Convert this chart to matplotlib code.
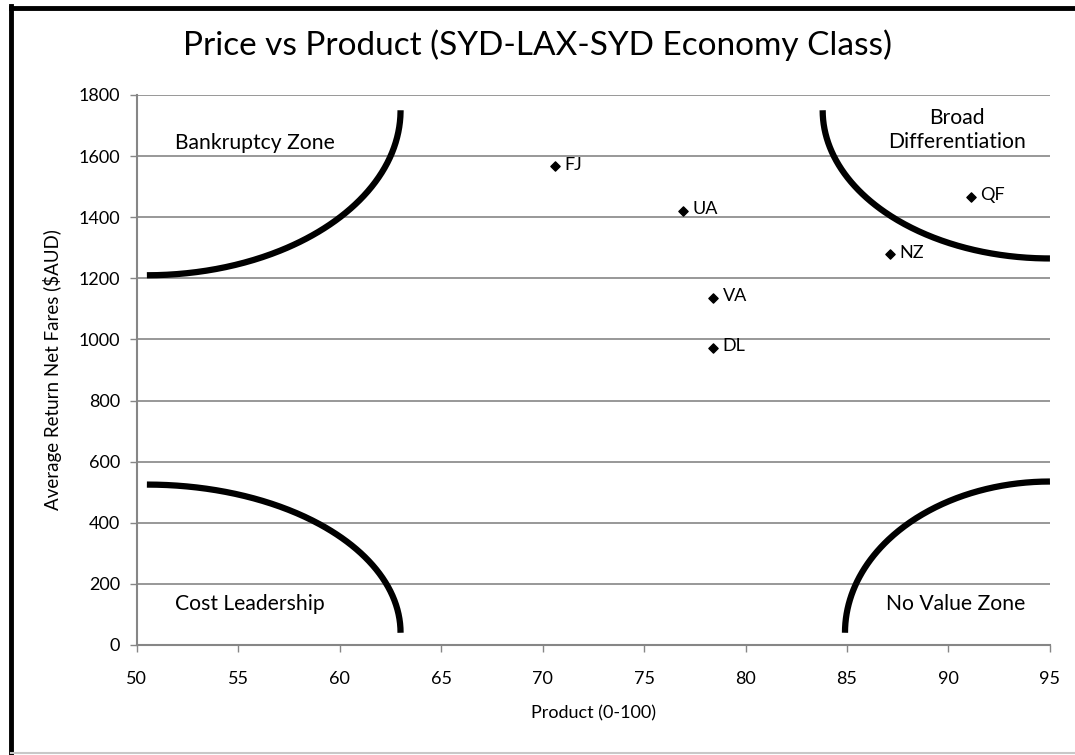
import numpy as np
import matplotlib.pyplot as plt
from matplotlib.lines import Line2D

plt.rcParams['font.family'] = ['Lato', 'DejaVu Sans']

# airline positions
airlines = ['FJ', 'UA', 'QF', 'NZ', 'VA', 'DL']
product = [70.6, 76.9, 91.1, 87.1, 78.4, 78.4]
fares = [1567, 1421, 1467, 1278, 1136, 973]

# quarter-ellipse zone boundaries: centre x, centre y, half-width, half-height, start/end angles
arcs = [
    (50.5, 1750, 12.5, 540, 270, 360),   # bankruptcy
    (95.0, 1750, 11.2, 485, 180, 270),   # broad differentiation
    (50.5, 40, 12.5, 485, 0, 90),        # cost leadership
    (95.0, 40, 10.1, 495, 90, 180),      # no value
]
zones = [
    ('Bankruptcy Zone', 51.9, 1643, 'left'),
    ('Broad\nDifferentiation', 90.4, 1685, 'center'),
    ('Cost Leadership', 51.9, 134, 'left'),
    ('No Value Zone', 86.9, 134, 'left'),
]

fig = plt.figure(figsize=(10.75, 7.55), dpi=100)
ax = fig.add_axes([0.1272, 0.1457, 0.8495, 0.7285])

grey = '#868686'
ax.set_xlim(50, 95)
ax.set_ylim(0, 1800)
ax.set_xticks(np.arange(50, 96, 5))
ax.set_yticks(np.arange(0, 1801, 200))
ax.yaxis.grid(True, color=grey, lw=1.2)
ax.set_axisbelow(True)
for s in ['top', 'right']:
    ax.spines[s].set_visible(False)
for s in ['left', 'bottom']:
    ax.spines[s].set_color(grey)
    ax.spines[s].set_linewidth(1.5)
ax.tick_params(direction='out', length=5, color=grey, width=1, labelsize=13, pad=7)
ax.tick_params(axis='x', pad=14)

for cx, cy, a, b, t0, t1 in arcs:
    t = np.radians(np.linspace(t0, t1, 200))
    ax.plot(cx + a * np.cos(t), cy + b * np.sin(t), color='black', lw=4.5,
            solid_capstyle='butt', clip_on=False)

ax.scatter(product, fares, marker='D', s=22, color='black', zorder=3)
for name, x, y in zip(airlines, product, fares):
    ax.annotate(name, (x, y), xytext=(7, 1), textcoords='offset points',
                fontsize=13, va='center')

for txt, x, y, ha in zones:
    ax.text(x, y, txt, fontsize=15.2, ha=ha, va='center', linespacing=1.25)

ax.set_xlabel('Product (0-100)', fontsize=13, labelpad=13)
ax.set_ylabel('Average Return Net Fares ($AUD)', fontsize=13.5, labelpad=12)
fig.text(0.5, 0.94, 'Price vs Product (SYD-LAX-SYD Economy Class)',
         fontsize=24, ha='center', va='center')

# chart frame
fig.add_artist(Line2D([0.0102, 0.0102], [0.0, 0.992], color='black', lw=3.5))
fig.add_artist(Line2D([0.0102, 1.0], [0.990, 0.990], color='black', lw=3.5))
fig.add_artist(Line2D([0.0102, 1.0], [0.003, 0.003], color='#c8c8c8', lw=1.5))

fig.savefig('out.png', dpi=100)
